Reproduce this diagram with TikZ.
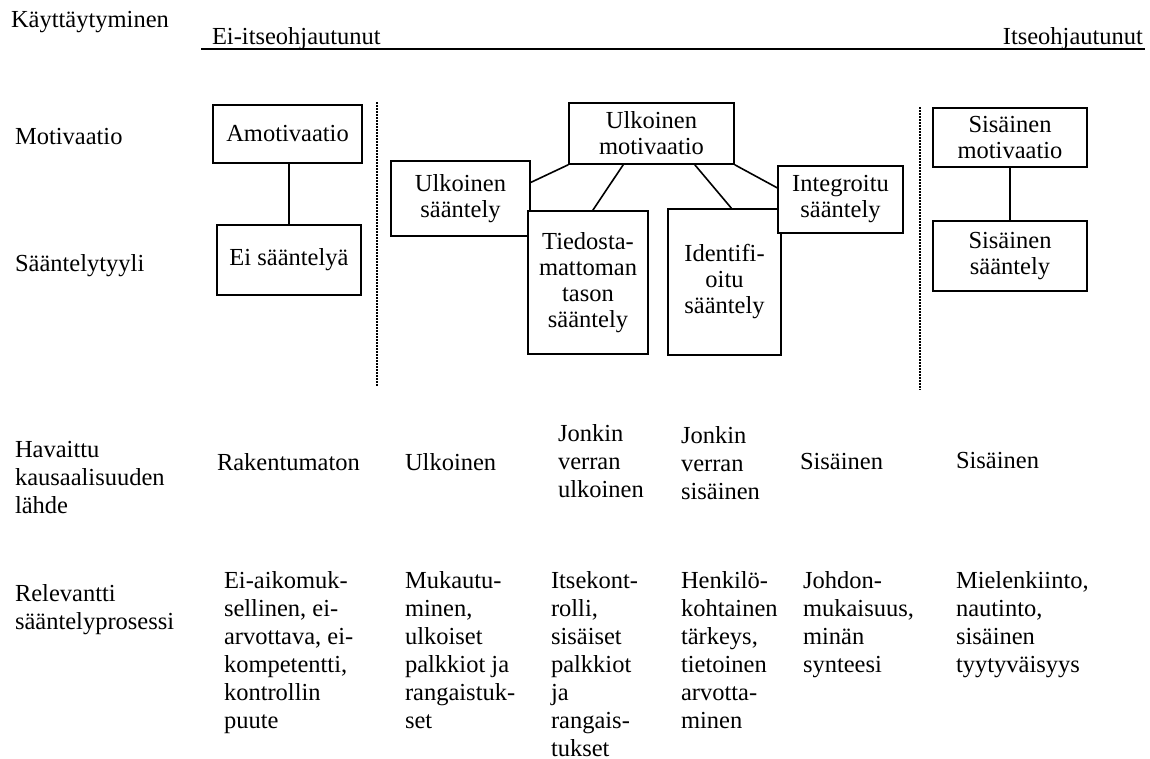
\documentclass[tikz,border=0pt]{standalone}
\usepackage{fontspec}
\setmainfont{Liberation Serif}
\usepackage{tikz}
\usetikzlibrary{calc}
\usetikzlibrary{shadows}
\newcommand{\boxfont}{\fontsize{24.5}{26}\selectfont}
\newcommand{\cellfont}{\fontsize{24.5}{28}\selectfont}
\tikzstyle{stylebox}=[draw, line width=1.6pt, fill=white, inner sep=0, align=center, font=\boxfont,
                      drop shadow={shadow xshift=1.2pt, shadow yshift=-1.2pt, opacity=0.3}]
\tikzstyle{celltext}=[inner sep=0, outer sep=0, anchor=north west, align=left, font=\cellfont]
\tikzstyle{connector}=[line width=1.6pt]
\tikzstyle{divider}=[line width=2pt, dash pattern=on 1.5pt off 1.5pt]
\tikzstyle{diagram}=[x=1pt, y=-1pt,
                     % Fix the page to the size of the figure.
                     execute at begin picture={\useasboundingbox (0, 0) rectangle (1150, 758);}]
\begin{document}
\begin{tikzpicture}[diagram]
        % Header.
        \node[celltext] (behav) at (11, 11.5) {Käyttäytyminen};
        \node[celltext] (nonself) at (212, 27) {Ei-itseohjautunut};
        \node[celltext, anchor=north east] (selfdet) at (1143, 27) {Itseohjautunut};
        \draw[connector] (201, 49) -- (1145, 49);
        % Row labels.
        \node[celltext] (motlabel) at (15, 128.5) {Motivaatio};
        \node[celltext] (reglabel) at (15, 254.5) {Sääntelytyyli};
        \node[celltext] (locuslabel) at (15, 441.5) {Havaittu\\kausaalisuuden\\lähde};
        \node[celltext] (proclabel) at (15, 584.5) {Relevantti\\sääntelyprosessi};
        % Boxes.
        \node[stylebox, minimum width=149pt, minimum height=58pt] (amot) at (287.5, 134) {Amotivaatio};
        \node[stylebox, minimum width=144pt, minimum height=70pt] (noreg) at (289, 260) {Ei sääntelyä};
        \node[stylebox, minimum width=139pt, minimum height=75pt] (extreg) at (460.5, 198.5) {Ulkoinen\\sääntely};
        \node[stylebox, minimum width=165pt, minimum height=61pt] (extmot) at (651.5, 133.5) {Ulkoinen\\motivaatio};
        \node[stylebox, minimum width=120pt, minimum height=143pt] (introreg) at (588, 282.5) {Tiedosta-\\mattoman\\tason\\sääntely};
        \node[stylebox, minimum width=113pt, minimum height=146pt] (identreg) at (724.5, 282) {Identifi-\\oitu\\sääntely};
        \node[stylebox, minimum width=125pt, minimum height=67pt] (integreg) at (840.5, 199.5) {Integroitu\\sääntely};
        \node[stylebox, minimum width=154pt, minimum height=59pt] (intmot) at (1010, 137.5) {Sisäinen\\motivaatio};
        \node[stylebox, minimum width=154pt, minimum height=70pt] (intreg) at (1010, 256) {Sisäinen\\sääntely};
        \draw[connector] (noreg.north) -- (noreg.north |- amot.south);
        \draw[connector] (intmot) -- (intreg);
        \draw[connector] (extmot.south west) -- ($(extreg.north east)!0.29!(extreg.south east)$);
        \draw[connector] ($(extmot.south west)!0.33!(extmot.south east)$) -- ($(introreg.north west)!0.54!(introreg.north east)$);
        \draw[connector] ($(extmot.south west)!0.76!(extmot.south east)$) -- ($(identreg.north west)!0.56!(identreg.north east)$);
        \draw[connector] (extmot.south east) -- ($(integreg.north west)!0.33!(integreg.south west)$);
        \draw[divider] (377, 102) -- (377, 387);
        \draw[divider] (920, 107) -- (920, 390);
        % Perceived locus of causality.
        \node[celltext] (locusA) at (217, 453.5) {Rakentumaton};
        \node[celltext] (locusB) at (405, 453.5) {Ulkoinen};
        \node[celltext] (locusC) at (558, 424) {Jonkin\\verran\\ulkoinen};
        \node[celltext] (locusD) at (681, 426) {Jonkin\\verran\\sisäinen};
        \node[celltext] (locusE) at (800, 453.5) {Sisäinen};
        \node[celltext] (locusF) at (956, 452) {Sisäinen};
        % Regulatory processes.
        \node[celltext] (procA) at (224, 571) {Ei-aikomuk-\\sellinen, ei-\\arvottava, ei-\\kompetentti,\\kontrollin\\puute};
        \node[celltext] (procB) at (405, 571) {Mukautu-\\minen,\\ulkoiset\\palkkiot ja\\rangaistuk-\\set};
        \node[celltext] (procC) at (551, 571) {Itsekont-\\rolli,\\sisäiset\\palkkiot\\ja\\rangais-\\tukset};
        \node[celltext] (procD) at (681, 571) {Henkilö-\\kohtainen\\tärkeys,\\tietoinen\\arvotta-\\minen};
        \node[celltext] (procE) at (803, 571) {Johdon-\\mukaisuus,\\minän\\synteesi};
        \node[celltext] (procF) at (956, 571) {Mielenkiinto,\\nautinto,\\sisäinen\\tyytyväisyys};
    \end{tikzpicture}
\end{document}
